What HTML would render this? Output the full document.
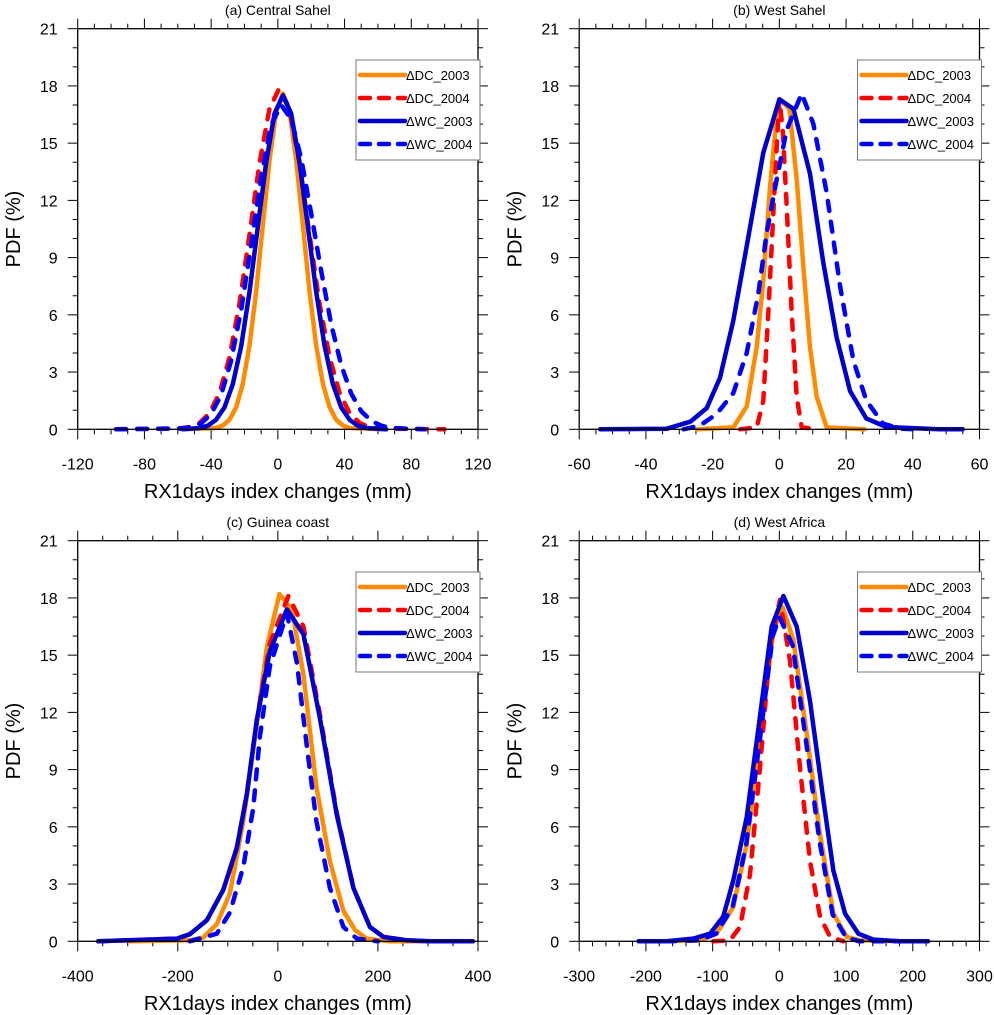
<!DOCTYPE html>
<html><head><meta charset="utf-8"><style>
body{margin:0;background:#fff;}
svg{display:block;font-family:"Liberation Sans",sans-serif;}
</style></head><body>
<svg id="fig" width="994" height="1015" viewBox="0 0 994 1015"></svg>
<script>
// Panel (a) Central Sahel
const aDC03x=[-57,-37,-33,-29,-25,-21,-17,-13,-9,-5,-1,3,7,11,15,19,23,27,31,35,39,43,64];
const aDC03y=[0,.07,.2,.5,1.16,2.38,4.39,7.24,10.7,14.1,16.65,17.6,16.65,14.1,10.7,7.24,4.39,2.38,1.16,.5,.2,.07,0];
const aDC04x=[-97,-59,-53,-47,-41,-35,-29,-23,-17,-11,-5,1,7,13,19,25,31,37,43,49,55,61,100];
const aDC04y=[0,.04,.12,.33,.85,1.9,3.77,6.6,10.2,13.95,16.8,17.9,16.8,13.95,10.2,6.6,3.77,1.9,.85,.33,.12,.04,0];
const aWC03x=[-57,-47,-42,-37,-32,-27,-22,-17,-12,-7,-2,3,8,13,18,23,28,33,38,43,48,53,65];
const aWC03y=[0,.07,.19,.5,1.15,2.37,4.36,7.2,10.6,14.0,16.55,17.5,16.55,14.0,10.6,7.2,4.36,2.37,1.15,.5,.19,.07,0];
const aWC04x=[-97,-58,-52,-46,-40,-34,-28,-22,-16,-10,-4,2,8,14,20,26,32,38,44,50,56,62,68,88];
const aWC04y=[0,.04,.11,.31,.8,1.8,3.59,6.27,9.7,13.26,15.98,17,16.25,14.2,11.3,8.3,5.5,3.37,1.87,.95,.44,.19,.07,0];
// Panel (b) West Sahel
const bDC03x=[-24.7,-13.8,-9.8,-6.8,-4.8,-2.8,-0.8,0.2,3,5.2,7.2,9.2,11.2,14.2,25.6];
const bDC03y=[0,.1,1.2,4.3,7.8,12.7,16.4,17.3,16.8,13.1,8.5,4.3,1.7,.1,0];
const bDC04x=[-11.8,-6.8,-4.8,-3.3,-1.8,-0.8,0,1,2.2,3.7,5.2,6.7,11.7];
const bDC04y=[0,.1,1.5,6.1,11.3,14.8,17.3,15.7,11.7,6.1,1.7,.1,0];
const bWC03x=[-53.7,-33.7,-26.7,-21.8,-17.8,-13.8,-9.8,-4.8,0,4.2,9.2,13.2,17.2,21.2,26.1,32.1,48,55];
const bWC03y=[0,.03,.4,1.1,2.7,5.7,9.6,14.5,17.3,16.8,13.4,8.7,4.8,2.0,.56,.12,0,0];
const bWC04x=[-28.7,-23.8,-18.8,-13.8,-9.8,-6.3,-3.8,-0.8,2.2,6.7,10.2,14.2,18.2,22.2,26.1,31.1,36.1,42];
const bWC04y=[0,.2,.8,1.9,4,7.1,10.3,13.1,15.7,17.6,16,12.4,7.5,3.6,1.5,.3,.03,0];
// Panel (c) Guinea coast
const cDC03x=[-296,-176,-149,-122,-96,-69,-42,-22,3,28,51,77,104,131,154,177,224,380];
const cDC03y=[0,.05,.2,.9,2.5,6.3,11.4,15.4,18.2,17.4,14,8.1,4.2,1.6,.6,.14,0,0];
const cDC04x=[-359,-202,-176,-142,-109,-82,-62,-42,-16,21,51,84,118,151,184,211,258,304,390];
const cDC04y=[0,.14,.37,1.1,2.7,4.9,7.7,11.6,15.6,18.1,16.5,11.9,6.7,2.8,.75,.23,.05,0,0];
const cWC03x=[-359,-202,-176,-142,-109,-82,-62,-42,-16,18,51,84,118,151,184,211,258,304,390];
const cWC03y=[0,.14,.37,1.1,2.7,4.9,7.7,11.6,15.2,17.4,16.1,11.7,6.6,2.8,.75,.23,.05,0,0];
const cWC04x=[-176,-122,-96,-69,-49,-36,-16,18,38,58,77,104,131,158,200];
const cWC04y=[0,.4,1.5,3.9,7,10.7,14.4,17.2,14.6,10.2,6.3,2.8,.75,.14,0];
// Panel (d) West Africa
const dDC03x=[-169,-119,-94,-69,-49,-29,-9,5,21,41,61,81,101,121,181];
const dDC03y=[0,.05,.4,1.8,5.1,10.5,16.3,17.5,15.8,10.9,5.6,1.45,.23,.05,0];
const dDC04x=[-99,-74,-59,-44,-29,-14,1,16,31,46,61,76,96];
const dDC04y=[0,.05,.75,3.5,9.1,15.4,17.9,14.7,9.1,4.2,1.3,.23,0];
const dWC03x=[-211,-169,-129,-104,-84,-69,-49,-29,-11.5,6,26,46,66,81,98.5,118.5,141,181,223];
const dWC03y=[0,0,.14,.4,1.3,3.2,6.5,11.8,16.5,18.1,16.5,12.6,7.4,3.7,1.45,.4,.09,0,0];
const dWC04x=[-170,-120,-95,-70,-50,-30,-10,0,20,40,60,80,100,120,180];
const dWC04y=[0,.05,.4,1.8,5,10.4,16,17,15.5,10.5,5.3,1.4,.2,0,0];

const yTicks=[0,3,6,9,12,15,18,21];
const legendLabels=["\u0394DC_2003","\u0394DC_2004","\u0394WC_2003","\u0394WC_2004"];
const panelTitles=["(a) Central Sahel","(b) West Sahel","(c) Guinea coast","(d) West Africa"];
const xMin=[-120,-60,-400,-300], xMax=[120,60,400,300], xMajor=[40,20,200,100], xMinor=[10,5,50,20];

const NS="http://www.w3.org/2000/svg";
const svg=document.getElementById('fig');
function mk(tag,attrs,parent){const e=document.createElementNS(NS,tag);for(const k in attrs)e.setAttribute(k,attrs[k]);(parent||svg).appendChild(e);return e;}
const styles=[{c:"#FF8C00",d:null},{c:"#FF0000",d:"10 11"},{c:"#0000CD",d:null},{c:"#0000FF",d:"10 11"}];
const panelData=[
 [[aDC03x,aDC03y],[aDC04x,aDC04y],[aWC03x,aWC03y],[aWC04x,aWC04y]],
 [[bDC03x,bDC03y],[bDC04x,bDC04y],[bWC03x,bWC03y],[bWC04x,bWC04y]],
 [[cDC03x,cDC03y],[cDC04x,cDC04y],[cWC03x,cWC03y],[cWC04x,cWC04y]],
 [[dDC03x,dDC03y],[dDC04x,dDC04y],[dWC03x,dWC03y],[dWC04x,dWC04y]]];
const seriesNames=["dc-2003-line","dc-2004-line","wc-2003-line","wc-2004-line"];

for(let p=0;p<4;p++){
  const ox=(p%2)*501.5, oy=Math.floor(p/2)*512;
  const L=77.7+ox,R=478+ox,T=28.7+oy,B=429.3+oy;
  const g=mk('g',{});
  
  
  const X=v=>L+(v-xMin[p])/(xMax[p]-xMin[p])*(R-L);
  const Y=v=>B-v/21*(B-T);
  // ticks
  for(let v=xMin[p];v<=xMax[p]+1e-9;v+=xMinor[p]){
    const maj=Math.abs(Math.round(v/xMajor[p])*xMajor[p]-v)<1e-6;const len=maj?10:5;
    mk('line',{x1:X(v),x2:X(v),y1:B,y2:B+len,stroke:"#000","stroke-width":1},g);
    mk('line',{x1:X(v),x2:X(v),y1:T,y2:T-len,stroke:"#000","stroke-width":1},g);
    if(maj){const t=mk('text',{x:X(v),y:B+40,"text-anchor":"middle","font-size":16},g);t.textContent=v;
      }
  }
  for(let v=0;v<=21;v++){
    const maj=v%3===0;const len=maj?10:5;
    mk('line',{x1:L-len,x2:L,y1:Y(v),y2:Y(v),stroke:"#000","stroke-width":1},g);
    mk('line',{x1:R,x2:R+len,y1:Y(v),y2:Y(v),stroke:"#000","stroke-width":1},g);
  }
  yTicks.forEach(v=>{const t=mk('text',{x:L-20,y:Y(v)+6,"text-anchor":"end","font-size":16},g);t.textContent=v;
    });
  // curves
  const clip=mk('clipPath',{id:'clip'+p},g);mk('rect',{x:L,y:T-5,width:R-L,height:B-T+10},clip);
  panelData[p].forEach((s,i)=>{
    const d=s[0].map((x,k)=>(k?'L':'M')+X(x).toFixed(1)+','+Y(s[1][k]).toFixed(1)).join(' ');
    const a={d:d,fill:"none",stroke:styles[i].c,"stroke-width":4.5,"stroke-linejoin":"round","stroke-linecap":"round","clip-path":"url(#clip"+p+")"};
    if(styles[i].d)a["stroke-dasharray"]=styles[i].d;
    const path=mk('path',a,g);
    
    
  });
  mk('rect',{x:L,y:T,width:R-L,height:B-T,fill:"none",stroke:"#000","stroke-width":1.3},g);
  // legend
  const lg=mk('g',{},g);
  
  
  mk('rect',{x:356+ox,y:60+oy,width:124,height:100,fill:"#fff",stroke:"#777","stroke-width":1},lg);
  legendLabels.forEach((lab,i)=>{
    const yy=75+oy+i*23;
    const a={x1:360+ox,x2:405+ox,y1:yy,y2:yy,stroke:styles[i].c,"stroke-width":4.5,"stroke-linecap":"round"};
    if(styles[i].d)a["stroke-dasharray"]="10 9";
    mk('line',a,lg);
    const t=mk('text',{x:406+ox,y:yy+5,"font-size":13},lg);t.textContent=lab;
    
    
  });
  const tt=mk('text',{x:(L+R)/2,y:15+oy,"text-anchor":"middle","font-size":14},g);tt.textContent=panelTitles[p];
  
  
  const xl=mk('text',{x:(L+R)/2,y:498+oy,"text-anchor":"middle","font-size":20},g);xl.textContent="RX1days index changes (mm)";
  
  
  const yl=mk('text',{x:0,y:0,"text-anchor":"middle","font-size":20,transform:`translate(${20+ox},${(T+B)/2}) rotate(-90)`},g);yl.textContent="PDF (%)";
  
  
}
</script>
</body></html>
